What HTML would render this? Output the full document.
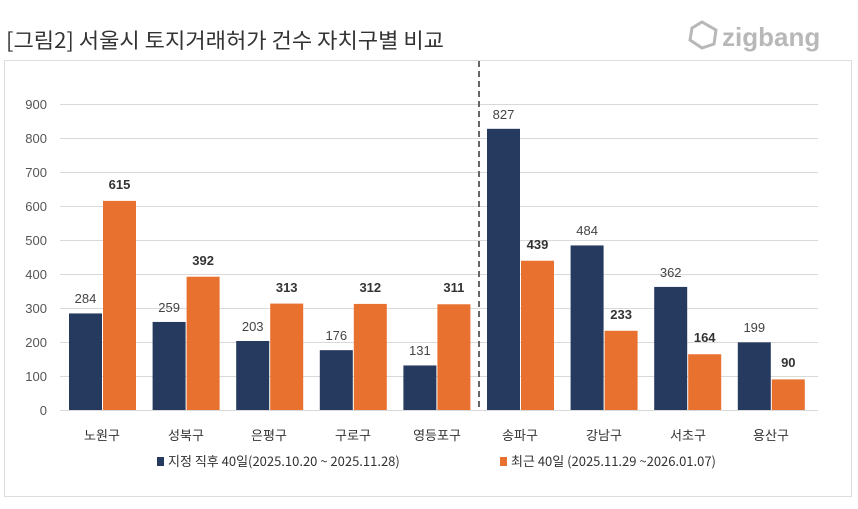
<!DOCTYPE html>
<html><head><meta charset="utf-8"><style>
body{margin:0;background:#fff;width:858px;height:504px;overflow:hidden}
</style></head><body>
<svg width="858" height="504" xmlns="http://www.w3.org/2000/svg" font-family="Liberation Sans, Noto Sans CJK KR, sans-serif">
<text x="6" y="48" font-size="21" fill="#333" font-family="Noto Sans CJK KR, sans-serif" textLength="438" lengthAdjust="spacingAndGlyphs">[그림2] 서울시 토지거래허가 건수 자치구별 비교</text>
<g fill="none" stroke="#b8b8b8" stroke-width="3"><path d="M692 28 l10 -6 l14 8 l-2 14 l-12 4 l-12 -8z"/></g>
<text x="722" y="46" font-size="26" fill="#b8b8b8" font-weight="bold">zigbang</text>
<rect x="4.5" y="60.5" width="847" height="436" fill="none" stroke="#ddd"/>
<g stroke="#d9d9d9" stroke-width="1">
<line x1="60" x2="818" y1="104.5" y2="104.5"/><line x1="60" x2="818" y1="138.5" y2="138.5"/><line x1="60" x2="818" y1="172.5" y2="172.5"/><line x1="60" x2="818" y1="206.5" y2="206.5"/><line x1="60" x2="818" y1="240.5" y2="240.5"/><line x1="60" x2="818" y1="274.5" y2="274.5"/><line x1="60" x2="818" y1="308.5" y2="308.5"/><line x1="60" x2="818" y1="342.5" y2="342.5"/><line x1="60" x2="818" y1="376.5" y2="376.5"/><line x1="60" x2="818" y1="410.5" y2="410.5"/>
</g>
<g font-size="13" fill="#555" text-anchor="end">
<text x="47" y="109">900</text><text x="47" y="143">800</text><text x="47" y="177">700</text><text x="47" y="211">600</text><text x="47" y="245">500</text><text x="47" y="279">400</text><text x="47" y="313">300</text><text x="47" y="347">200</text><text x="47" y="381">100</text><text x="47" y="415">0</text>
</g>
<line x1="479" x2="479" y1="61" y2="410" stroke="#666" stroke-width="2" stroke-dasharray="6,4"/>
<g fill="#253a5e">
<rect x="69" y="313.44" width="33" height="96.56"/>
<rect x="152.6" y="321.94" width="33" height="88.06"/>
<rect x="236.2" y="340.98" width="33" height="69.02"/>
<rect x="319.8" y="350.16" width="33" height="59.84"/>
<rect x="403.4" y="365.46" width="33" height="44.54"/>
<rect x="487" y="128.82" width="33" height="281.18"/>
<rect x="570.6" y="245.44" width="33" height="164.56"/>
<rect x="654.2" y="286.92" width="33" height="123.08"/>
<rect x="737.8" y="342.34" width="33" height="67.66"/>
</g>
<g fill="#e87130">
<rect x="103" y="200.9" width="33" height="209.1"/>
<rect x="186.6" y="276.72" width="33" height="133.28"/>
<rect x="270.2" y="303.58" width="33" height="106.42"/>
<rect x="353.8" y="303.92" width="33" height="106.08"/>
<rect x="437.4" y="304.26" width="33" height="105.74"/>
<rect x="521" y="260.74" width="33" height="149.26"/>
<rect x="604.6" y="330.78" width="33" height="79.22"/>
<rect x="688.2" y="354.24" width="33" height="55.76"/>
<rect x="771.8" y="379.4" width="33" height="30.6"/>
</g>
<g font-size="13" fill="#444" text-anchor="middle">
<text x="85.5" y="303">284</text><text x="169.1" y="312">259</text><text x="252.7" y="331">203</text><text x="336.3" y="340">176</text><text x="419.9" y="355">131</text><text x="503.5" y="119">827</text><text x="587.1" y="235">484</text><text x="670.7" y="277">362</text><text x="754.3" y="332">199</text>
</g>
<g font-size="13" fill="#333" font-weight="bold" text-anchor="middle">
<text x="119.5" y="189">615</text><text x="203.1" y="265">392</text><text x="286.7" y="292">313</text><text x="370.3" y="292">312</text><text x="453.9" y="292">311</text><text x="537.5" y="249">439</text><text x="621.1" y="319">233</text><text x="704.7" y="342">164</text><text x="788.3" y="367">90</text>
</g>
<g font-size="13" fill="#333" text-anchor="middle" font-family="Noto Sans CJK KR, sans-serif">
<text x="102" y="440">노원구</text><text x="186" y="440">성북구</text><text x="269" y="440">은평구</text><text x="353" y="440">구로구</text><text x="437" y="440">영등포구</text><text x="520" y="440">송파구</text><text x="604" y="440">강남구</text><text x="688" y="440">서초구</text><text x="771" y="440">용산구</text>
</g>
<rect x="157" y="457" width="7" height="9" fill="#253a5e"/>
<text x="168" y="466" font-size="13" fill="#333" font-family="Noto Sans CJK KR, sans-serif">지정 직후 40일(2025.10.20 ~ 2025.11.28)</text>
<rect x="500" y="457" width="7" height="9" fill="#e87130"/>
<text x="511" y="466" font-size="13" fill="#333" font-family="Noto Sans CJK KR, sans-serif">최근 40일 (2025.11.29 ~2026.01.07)</text>
</svg>
</body></html>
